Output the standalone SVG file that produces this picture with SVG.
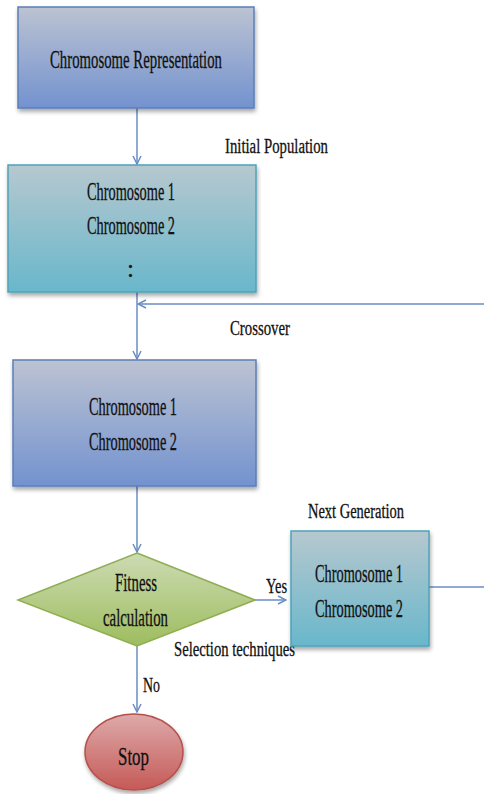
<svg xmlns="http://www.w3.org/2000/svg" width="484" height="794" viewBox="0 0 484 794">
<style>
text{font-family:"Liberation Serif","DejaVu Serif",serif;fill:#111;stroke:#111;stroke-width:0.3;}
.m{font-size:25px;}
.l{font-size:20px;}
.c{stroke:#6a8cc4;stroke-width:1.5;fill:none;}
.bb{fill:url(#gBlue);stroke:#5b7fb8;stroke-width:1.5;filter:url(#sh);}
.bt{fill:url(#gTeal);stroke:#4ea3b8;stroke-width:1.5;filter:url(#sh);}
</style>
<defs>
<linearGradient id="gBlue" x1="0" y1="0" x2="0" y2="1"><stop offset="0" stop-color="#bcc3d2"/><stop offset="1" stop-color="#7392cf"/></linearGradient>
<linearGradient id="gTeal" x1="0" y1="0" x2="0" y2="1"><stop offset="0" stop-color="#b6c8cf"/><stop offset="1" stop-color="#69b7cb"/></linearGradient>
<linearGradient id="gGreen" x1="0" y1="0" x2="0" y2="1"><stop offset="0" stop-color="#cddbb3"/><stop offset="1" stop-color="#9dbd5e"/></linearGradient>
<linearGradient id="gRed" x1="0" y1="0" x2="0" y2="1"><stop offset="0" stop-color="#ddaaaa"/><stop offset="1" stop-color="#c55a57"/></linearGradient>
<filter id="sh" x="-10%" y="-10%" width="130%" height="130%"><feGaussianBlur in="SourceAlpha" stdDeviation="2"/><feOffset dx="1" dy="3"/><feComponentTransfer><feFuncA type="linear" slope="0.35"/></feComponentTransfer><feMerge><feMergeNode/><feMergeNode in="SourceGraphic"/></feMerge></filter>
<marker id="ar" markerWidth="10" markerHeight="10" refX="9" refY="5" orient="auto" markerUnits="userSpaceOnUse"><path d="M1,1 L9,5 L1,9" fill="none" stroke="#6a8cc4" stroke-width="1.5"/></marker>
</defs>
<g id="connectors">
<line class="c" x1="137" y1="108" x2="137" y2="164" marker-end="url(#ar)"/>
<line class="c" x1="137" y1="292" x2="137" y2="359" marker-end="url(#ar)"/>
<line class="c" x1="484" y1="304" x2="138" y2="304" marker-end="url(#ar)"/>
<line class="c" x1="137" y1="486" x2="137" y2="552" marker-end="url(#ar)"/>
<line class="c" x1="255" y1="600" x2="286" y2="600" marker-end="url(#ar)"/>
<line class="c" x1="137" y1="646" x2="137" y2="712" marker-end="url(#ar)"/>
<line class="c" x1="429" y1="587" x2="484" y2="587"/>
<text class="l" x="225" y="153" textLength="103" lengthAdjust="spacingAndGlyphs">Initial Population</text>
<text class="l" x="230" y="335" textLength="60" lengthAdjust="spacingAndGlyphs">Crossover</text>
<text class="l" x="308" y="518" textLength="96" lengthAdjust="spacingAndGlyphs">Next Generation</text>
<text class="l" x="266" y="593" textLength="21" lengthAdjust="spacingAndGlyphs">Yes</text>
<text class="l" x="174" y="656" textLength="121" lengthAdjust="spacingAndGlyphs">Selection techniques</text>
<text class="l" x="143" y="692" textLength="17" lengthAdjust="spacingAndGlyphs">No</text>
</g>
<g id="n1">
<rect class="bb" x="18" y="7" width="236" height="101"/>
<text class="m" x="50" y="68" textLength="172" lengthAdjust="spacingAndGlyphs">Chromosome Representation</text>
</g>
<g id="n2">
<rect class="bt" x="8" y="165" width="248" height="127"/>
<text class="m" x="87" y="200" textLength="88" lengthAdjust="spacingAndGlyphs">Chromosome 1</text>
<text class="m" x="87" y="234" textLength="88" lengthAdjust="spacingAndGlyphs">Chromosome 2</text>
<text class="m" x="127" y="277" font-size="26">:</text>
</g>
<g id="n3">
<rect class="bb" x="13" y="360" width="243" height="126"/>
<text class="m" x="89" y="415" textLength="88" lengthAdjust="spacingAndGlyphs">Chromosome 1</text>
<text class="m" x="89" y="450" textLength="88" lengthAdjust="spacingAndGlyphs">Chromosome 2</text>
</g>
<g id="n4">
<polygon points="137,553 255,600 137,646 18,600" fill="url(#gGreen)" stroke="#8fae52" stroke-width="1.5"/>
<text class="m" x="115" y="591" textLength="42" lengthAdjust="spacingAndGlyphs">Fitness</text>
<text class="m" x="103" y="626" textLength="65" lengthAdjust="spacingAndGlyphs">calculation</text>
</g>
<g id="n5">
<rect class="bt" x="291" y="531" width="138" height="115"/>
<text class="m" x="315" y="582" textLength="88" lengthAdjust="spacingAndGlyphs">Chromosome 1</text>
<text class="m" x="315" y="617" textLength="88" lengthAdjust="spacingAndGlyphs">Chromosome 2</text>
</g>
<g id="n6">
<ellipse cx="134" cy="752" rx="49" ry="38" fill="url(#gRed)" stroke="#b5504c" stroke-width="1.5" filter="url(#sh)"/>
<text class="m" x="118" y="765" textLength="31" lengthAdjust="spacingAndGlyphs">Stop</text>
</g>
</svg>
